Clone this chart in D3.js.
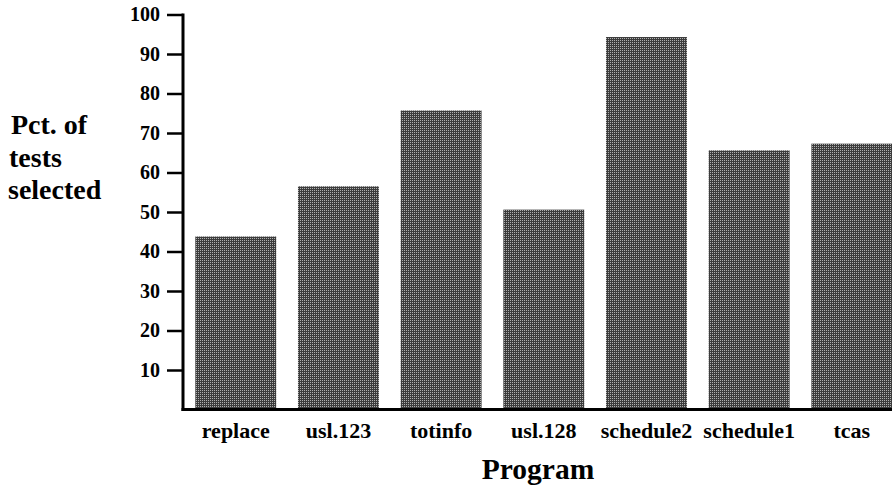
<!DOCTYPE html>
<html><head><meta charset="utf-8">
<script src="https://cdn.jsdelivr.net/npm/d3@7"></script>
<style>body{margin:0;background:#fff}svg{display:block}</style>
</head><body>
<script>
const categories = ["replace","usl.123","totinfo","usl.128","schedule2","schedule1","tcas"];
const values = [43.8, 56.5, 75.7, 50.6, 94.3, 65.6, 67.3];
const yTicks = [10,20,30,40,50,60,70,80,90,100];

const W = 892, H = 490;
const svg = d3.select("body").append("svg").attr("width", W).attr("height", H);
const font = "'Liberation Serif','Times New Roman',serif";

const defs = svg.append("defs");
const pat = defs.append("pattern").attr("id","dots").attr("patternUnits","userSpaceOnUse")
  .attr("width",2).attr("height",2);
pat.append("rect").attr("width",2).attr("height",2).attr("fill","#3c3c3c");
pat.append("rect").attr("x",0).attr("y",0).attr("width",1).attr("height",1).attr("fill","#b0b0b0");

const x = d3.scaleBand().domain(categories).range([184, 903.6]).paddingInner(0.212).paddingOuter(0.11);
const y = d3.scaleLinear().domain([0,100]).range([409.5, 14.5]);

svg.append("g").selectAll("rect").data(values).join("rect")
  .attr("x", (d,i) => x(categories[i]))
  .attr("width", x.bandwidth())
  .attr("y", d => y(d))
  .attr("height", d => y(0) - y(d))
  .attr("fill", "url(#dots)");

// y axis
const yAxis = d3.axisLeft(y).tickValues(yTicks).tickSize(16).tickPadding(7).tickSizeOuter(0);
const gy = svg.append("g").attr("transform","translate(183,0)").call(yAxis);
gy.select(".domain").remove();
gy.selectAll(".tick line").attr("stroke","#000").attr("stroke-width",2.5);
gy.selectAll(".tick text").attr("font-family",font).attr("font-weight","bold")
  .attr("font-size",20).attr("fill","#000");
svg.append("line").attr("x1",183).attr("x2",183).attr("y1",y(100)-1).attr("y2",y(0)+1.5)
  .attr("stroke","#000").attr("stroke-width",3);

// x axis
const xAxis = d3.axisBottom(x).tickSize(0).tickPadding(13);
const gx = svg.append("g").attr("transform",`translate(0,${y(0)})`).call(xAxis);
gx.select(".domain").remove();
gx.selectAll(".tick text").attr("font-family",font).attr("font-weight","bold")
  .attr("font-size",22).attr("fill","#000");
svg.append("line").attr("x1",181.5).attr("x2",W).attr("y1",y(0)).attr("y2",y(0))
  .attr("stroke","#000").attr("stroke-width",3);

svg.append("text").attr("x",538).attr("y",479).attr("text-anchor","middle")
  .attr("font-family",font).attr("font-weight","bold").attr("font-size",29.5).text("Program");

const ylab = [["Pct. of",134,11],["tests",166.5,9],["selected",199,8]];
svg.append("g").selectAll("text").data(ylab).join("text")
  .attr("font-family",font).attr("font-weight","bold").attr("font-size",28)
  .attr("x", d => d[2]).attr("y", d => d[1]).text(d => d[0]);
</script>
</body></html>
